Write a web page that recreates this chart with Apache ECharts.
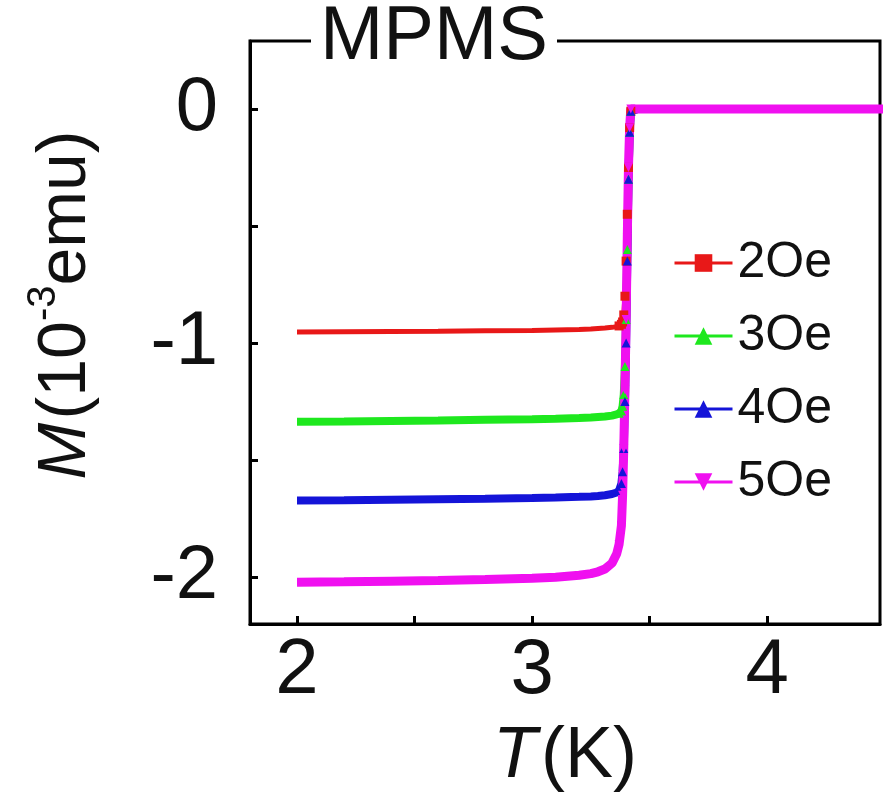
<!DOCTYPE html>
<html>
<head>
<meta charset="utf-8">
<script src="https://cdn.jsdelivr.net/npm/echarts@6/dist/echarts.min.js"></script>
<style>
  html, body { margin: 0; padding: 0; background: #fff; }
  #main { width: 883px; height: 803px; }
</style>
</head>
<body>
<div id="main"></div>
<script>
// temperature points (K), shared by all four curves
var temps = [2.0, 2.2, 2.4, 2.6, 2.8, 3.0, 3.1, 3.2, 3.25, 3.28, 3.31, 3.34, 3.36, 3.37, 3.38,
             3.385, 3.39, 3.395, 3.40, 3.405, 3.41, 3.415, 3.42, 3.45, 3.6, 3.8, 4.0, 4.2, 4.5];

// M (10^-3 emu)
var m2Oe = [-0.953, -0.952, -0.951, -0.950, -0.948, -0.946, -0.944, -0.942, -0.940, -0.938, -0.936, -0.933, -0.930, -0.927, -0.920,
            -0.910, -0.880, -0.800, -0.650, -0.450, -0.250, -0.080, -0.010, 0, 0, 0, 0, 0, 0];
var m3Oe = [-1.336, -1.335, -1.333, -1.331, -1.328, -1.325, -1.323, -1.320, -1.318, -1.316, -1.314, -1.310, -1.305, -1.300, -1.290,
            -1.270, -1.220, -1.100, -0.900, -0.600, -0.300, -0.100, -0.010, 0, 0, 0, 0, 0, 0];
var m4Oe = [-1.672, -1.671, -1.669, -1.667, -1.665, -1.662, -1.660, -1.657, -1.655, -1.653, -1.650, -1.645, -1.638, -1.630, -1.600,
            -1.550, -1.450, -1.250, -1.000, -0.650, -0.300, -0.100, -0.010, 0, 0, 0, 0, 0, 0];
var m5Oe = [-2.022, -2.020, -2.017, -2.014, -2.010, -2.005, -2.000, -1.992, -1.985, -1.977, -1.965, -1.940, -1.900, -1.860, -1.780,
            -1.650, -1.450, -1.200, -0.900, -0.550, -0.250, -0.080, 0, 0, 0, 0, 0, 0, 0];

var seriesNames = ['2Oe', '3Oe', '4Oe', '5Oe'];
var xTicks = [2, 2.5, 3, 3.5, 4];
var xLabels = [2, 3, 4];
var yTicks = [-2, -1.5, -1, -0.5, 0];
var yLabels = [-2, -1, 0];

var FONT = 'Liberation Sans';

function pairs(ms) {
    var out = [];
    for (var i = 0; i < temps.length; i++) {
        out.push([temps[i], ms[i]]);
    }
    return out;
}

// markers only show on the steep part, the flat parts look like a thick band
function markerSize(v) {
    return (v[0] > 3.36 && v[0] < 3.425) ? 9 : 0;
}

function makeSeries(name, ms, color, symbol, rotate, width) {
    return {
        name: name,
        type: 'line',
        data: pairs(ms),
        symbol: symbol,
        symbolRotate: rotate,
        symbolSize: markerSize,
        showSymbol: true,
        lineStyle: { color: color, width: width },
        itemStyle: { color: color },
        emphasis: { disabled: true },
        animation: false
    };
}

var myChart = echarts.init(document.getElementById('main'), null, { renderer: 'canvas' });

myChart.setOption({
    backgroundColor: '#fff',
    animation: false,
    grid: {
        left: 250,
        right: 3,
        top: 41,
        bottom: 179,
        show: true,
        borderColor: '#000',
        borderWidth: 3,
        backgroundColor: 'transparent'
    },
    title: {
        text: 'MPMS',
        left: 311,
        top: 0,
        padding: [0, 9],
        backgroundColor: '#fff',
        textStyle: { fontFamily: FONT, fontSize: 76, fontWeight: 'normal', color: '#111' }
    },
    legend: {
        orient: 'vertical',
        left: 668,
        top: 233,
        itemWidth: 58,
        itemHeight: 22,
        itemGap: 23,
        lineStyle: { width: 3 },
        textStyle: { fontFamily: FONT, fontSize: 50, color: '#111', lineHeight: 46 },
        data: seriesNames
    },
    xAxis: {
        type: 'value',
        min: 1.8,
        max: 4.48,
        name: '{i|T}{g| }{n|(K)}',
        nameLocation: 'middle',
        nameGap: 97,
        nameTextStyle: {
            rich: {
                i: { fontFamily: FONT, fontSize: 72, fontStyle: 'italic', color: '#111' },
                g: { fontFamily: FONT, fontSize: 14, color: '#111' },
                n: { fontFamily: FONT, fontSize: 72, color: '#111' }
            }
        },
        axisLine: { show: true, onZero: false, lineStyle: { color: '#000', width: 3 } },
        axisTick: { show: true, inside: true, length: 8, customValues: xTicks, lineStyle: { color: '#000', width: 3 } },
        axisLabel: { customValues: xLabels, margin: 8, fontFamily: FONT, fontSize: 78, color: '#111' },
        splitLine: { show: false }
    },
    yAxis: {
        type: 'value',
        min: -2.2,
        max: 0.29,
        axisLine: { show: true, onZero: false, lineStyle: { color: '#000', width: 3 } },
        axisTick: { show: true, inside: true, length: 8, customValues: yTicks, lineStyle: { color: '#000', width: 3 } },
        axisLabel: { customValues: yLabels, margin: 32, fontFamily: FONT, fontSize: 76, color: '#111' },
        splitLine: { show: false }
    },
    graphic: [{
        type: 'text',
        x: 62,
        y: 305,
        rotation: Math.PI / 2,
        style: {
            text: '{i|M}{g| }{n|(10}{s|-3}{n|emu)}',
            align: 'center',
            verticalAlign: 'middle',
            rich: {
                i: { fontFamily: FONT, fontSize: 68, fontStyle: 'italic', fill: '#111', lineHeight: 76, verticalAlign: 'bottom' },
                g: { fontFamily: FONT, fontSize: 12, fill: '#111', lineHeight: 76, verticalAlign: 'bottom' },
                n: { fontFamily: FONT, fontSize: 68, fill: '#111', lineHeight: 76, verticalAlign: 'bottom' },
                s: { fontFamily: FONT, fontSize: 40, fill: '#111', lineHeight: 40, verticalAlign: 'top' }
            }
        }
    }],
    series: [
        makeSeries('2Oe', m2Oe, '#e81818', 'rect', 0, 5),
        makeSeries('3Oe', m3Oe, '#1ee81e', 'triangle', 0, 8),
        makeSeries('4Oe', m4Oe, '#1414d8', 'triangle', 0, 8),
        makeSeries('5Oe', m5Oe, '#f010f0', 'triangle', 180, 9)
    ]
});
</script>
</body>
</html>
